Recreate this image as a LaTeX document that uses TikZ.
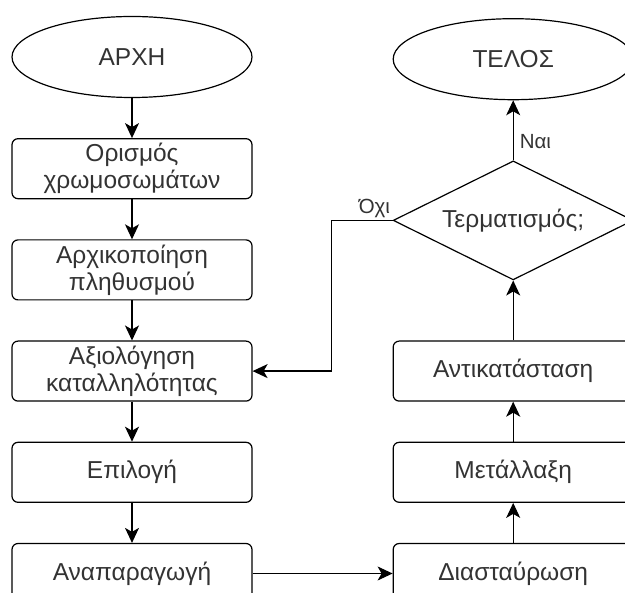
\documentclass[tikz,border=0pt]{standalone}
\usepackage{fontspec}
\setmainfont{Liberation Sans}
\usetikzlibrary{arrows.meta}
\usetikzlibrary{calc,positioning,shapes.geometric}
\definecolor{textgray}{RGB}{51,51,51}
\tikzset{%
  >={Stealth[width=14pt,length=15pt,inset=4pt]},
  % Specifications for style of nodes:
  base/.style = {rectangle, rounded corners=6pt, draw=black,
    line width=1.2pt,
    minimum width=240pt,
    text width=232pt,
    minimum height=60pt,
    inner sep=0pt,
    text centered, text=textgray,
    font=\fontsize{24.5}{27}\selectfont},
  terminal/.style = {ellipse, draw=black, line width=1.2pt,
    minimum width=240pt, minimum height=81pt, inner sep=0pt,
    text=textgray, font=\fontsize{24.5}{27}\selectfont},
  decision/.style = {diamond, aspect=2, draw=black, line width=1.2pt,
    minimum width=240pt, minimum height=119pt, inner sep=0pt,
    text=textgray, font=\fontsize{24.5}{27}\selectfont},
  answer/.style = {text=textgray, font=\fontsize{20.5}{23}\selectfont},
}

\begin{document}
\begin{tikzpicture}[x=1pt, y=-1pt, node distance=40pt, line width=1.2pt]
        \clip (0,0) rectangle (625,593);
        \fill[white] (0,0) rectangle (625,593);
        % Left column (top to bottom)
        \node(Start)[terminal] at (132,57){ΑΡΧΗ};
        \node(Chrom)[base,below=of Start]{Ορισμός \\ χρωμοσωμάτων};
        \node(Init)[base,below=of Chrom]{Αρχικοποίηση \\ πληθυσμού};
        \node(Eval)[base,below=of Init]{Αξιολόγηση \\ καταλληλότητας};
        \node(Select)[base,below=of Eval]{Επιλογή};
        \node(Repro)[base,below=of Select]{Αναπαραγωγή};
        % Right column (bottom to top)
        \node(Cross)[base,right=140pt of Repro]{Διασταύρωση};
        \node(Mut)[base,above=of Cross]{Μετάλλαξη};
        \node(Replace)[base,above=of Mut]{Αντικατάσταση};
        \node(Check)[decision,above=60pt of Replace]{Τερματισμός;};
        \node(End)[terminal,above=60pt of Check]{ΤΕΛΟΣ};
        % Connectors
        \draw[->](Start) -- (Chrom);
        \draw[->](Chrom) -- (Init);
        \draw[->](Init) -- (Eval);
        \draw[->](Eval) -- (Select);
        \draw[->](Select) -- (Repro);
        \draw[->](Repro) -- (Cross);
        \draw[->](Cross) -- (Mut);
        \draw[->](Mut) -- (Replace);
        \draw[->](Replace) -- (Check);
        \draw[->](Check) -- node[answer,right,pos=0.32,inner sep=6pt]{Ναι} (End);
        \draw[->](Check.west) node[answer,anchor=south east,inner sep=2pt]{Όχι}
          -- ++(-61,0) |- (Eval.east);
    \end{tikzpicture}
\end{document}
